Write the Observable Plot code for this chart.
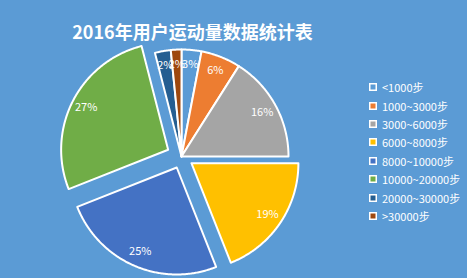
<!DOCTYPE html>
<html><head><meta charset="utf-8">
<script src="https://cdn.jsdelivr.net/npm/d3@7"></script>
<script src="https://cdn.jsdelivr.net/npm/@observablehq/plot@0.6"></script>
<style>
html,body{margin:0;padding:0;background:#5B9BD5;}
#chart{position:relative;width:467px;height:278px;background:#5B9BD5;overflow:hidden;font-family:"Noto Sans CJK SC",sans-serif;}
#title{position:absolute;left:0;width:385px;top:17px;text-align:center;color:#fff;font-weight:bold;font-size:18px;line-height:28px;}
#pie{position:absolute;left:0;top:0;}
#legend{position:absolute;left:369px;top:78px;}
#legend .lg-swatches{margin:0 !important;min-height:0 !important;}
#legend .lg-swatch{height:18.4px;padding-bottom:0 !important;margin:0 !important;display:flex;align-items:center;}
#legend .lg-swatch svg{margin-right:5px !important;overflow:hidden;}
#legend .lg-swatch rect{stroke:#fff;stroke-width:3px;}
#legend .lg-swatch-label{color:#fff;font-size:11px;font-family:"Noto Sans CJK SC",sans-serif;}
</style></head><body>
<div id="chart"><div id="title">2016年用户运动量数据统计表</div><div id="pie"></div><div id="legend"></div></div>
<script>
const categories = ["<1000步","1000~3000步","3000~6000步","6000~8000步","8000~10000步","10000~20000步","20000~30000步",">30000步"];
const shares = [3, 6, 16, 19, 25, 27, 2.4, 1.6];
const colors = ["#5B9BD5","#ED7D31","#A5A5A5","#FFC000","#4472C4","#70AD47","#255E91","#9E480E"];
const explode = [0, 0, 0, 0.112, 0.112, 0.14, 0, 0];

const cx = 181, cy = 156, R = 107, labelR = 0.86;

const arcs = d3.pie().sort(null).value(d => d)(shares);
const poly = [];
const labels = [];
arcs.forEach((a, i) => {
  const cat = categories[i];
  const mid = (a.startAngle + a.endAngle) / 2;
  const ox = explode[i] * Math.sin(mid), oy = explode[i] * Math.cos(mid);
  poly.push({cat, x: ox, y: oy});
  const n = Math.max(2, Math.ceil((a.endAngle - a.startAngle) / 0.01));
  for (let k = 0; k <= n; k++) {
    const t = a.startAngle + (a.endAngle - a.startAngle) * k / n;
    poly.push({cat, x: ox + Math.sin(t), y: oy + Math.cos(t)});
  }
  poly.push({cat, x: ox, y: oy});
  labels.push({cat, x: ox + labelR * Math.sin(mid), y: oy + labelR * Math.cos(mid), text: Math.round(shares[i]) + "%"});
});

const colorScale = {domain: categories, range: colors};

const chart = Plot.plot({
  width: 467, height: 278, margin: 0,
  style: {background: "transparent", fontFamily: "'Noto Sans CJK SC', sans-serif"},
  x: {domain: [-1, 1], range: [cx - R, cx + R], axis: null},
  y: {domain: [-1, 1], range: [cy + R, cy - R], axis: null},
  color: colorScale,
  marks: [
    Plot.line(poly, {x: "x", y: "y", z: "cat", fill: "cat", stroke: "white", strokeWidth: 2, strokeLinejoin: "round"}),
    Plot.text(labels, {x: "x", y: "y", text: "text", fill: "white", fontSize: 11})
  ]
});
document.getElementById("pie").appendChild(chart);

const legend = Plot.legend({
  color: {...colorScale, type: "ordinal"},
  legend: "swatches", columns: 1, swatchSize: 8, className: "lg",
  style: {fontSize: "11px", color: "white", fontFamily: "'Noto Sans CJK SC', sans-serif"}
});
document.getElementById("legend").appendChild(legend);
</script>
</body></html>
